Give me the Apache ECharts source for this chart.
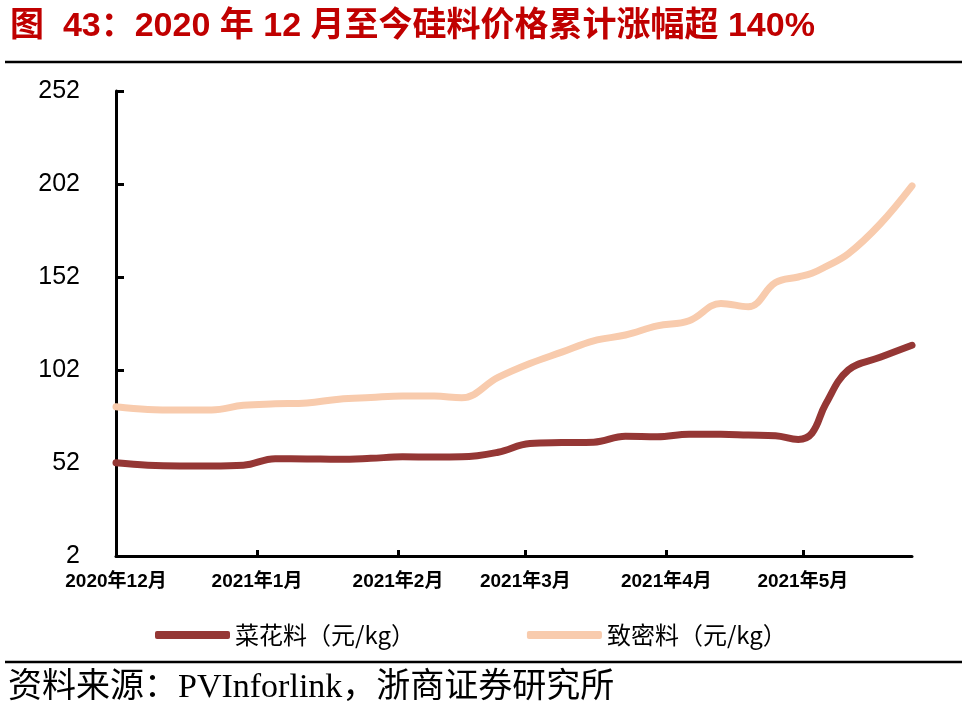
<!DOCTYPE html>
<html>
<head>
<meta charset="utf-8">
<script src="https://cdn.jsdelivr.net/npm/echarts@6/dist/echarts.min.js"></script>
<style>
html,body{margin:0;padding:0;background:#fff;}
#c{width:967px;height:721px;}
</style>
</head>
<body>
<div id="c"></div>
<script>
// ---- data ----
var dates = ['2020-12-01','2020-12-08','2020-12-15','2020-12-22','2020-12-29','2021-01-05','2021-01-12','2021-01-19','2021-01-26','2021-02-02','2021-02-09','2021-02-15','2021-02-23','2021-03-02','2021-03-09','2021-03-16','2021-03-23','2021-03-30','2021-04-06','2021-04-13','2021-04-19','2021-04-25','2021-04-30','2021-05-03','2021-05-06','2021-05-11','2021-05-18','2021-05-25'];
var flowerValues = [52.1,50.8,50.4,50.4,50.8,54.3,54.2,54.0,54.5,55.3,55.2,55.3,57.8,62.5,63.0,63.2,66.4,66.1,67.4,67.4,67.0,66.7,64.7,68.0,83.6,102.0,108.8,115.3];
var denseValues = [82.2,80.8,80.5,80.5,83.0,83.8,84.3,86.3,87.2,88.0,88.0,87.1,98.0,105.5,111.6,117.7,120.8,125.7,128.5,137.8,136.0,149.0,152.0,154.0,157.5,164.5,180.5,201.0];
var seriesNames = ['菜花料（元/kg）','致密料（元/kg）'];
var monthTicks = ['2020-12-01','2021-01-01','2021-02-01','2021-03-01','2021-04-01','2021-05-01'];
var monthLabels = ['2020年12月','2021年1月','2021年2月','2021年3月','2021年4月','2021年5月'];
var axisStart = '2020-12-01', axisEnd = '2021-05-25';
var yMin = 2, yMax = 252, yStep = 50;
var titleText = '图  43：2020 年 12 月至今硅料价格累计涨幅超 140%';
var sourceText = '资料来源：PVInforlink，浙商证券研究所';

// day offset from axis start (dates are converted, not typed as coordinates)
function dayOf(s){ var p = s.split('-'); return Math.round((Date.UTC(+p[0], +p[1]-1, +p[2]) - Date.UTC(2020, 11, 1)) / 86400000); }
var tickDays = monthTicks.map(dayOf);
function pairs(vals){ return dates.map(function(d,i){ return [dayOf(d), vals[i]]; }); }

var chart = echarts.init(document.getElementById('c'), null, {renderer:'canvas'});
var option = {
  backgroundColor: '#fff',
  animation: false,
  graphic: [
    {type:'text', left: 10, top: 10, style:{text: titleText, fill:'#C00000', font:'bold 34px "Liberation Sans","Noto Sans CJK SC"'}},
    {type:'line', shape:{x1:5, y1:62, x2:962, y2:62}, style:{stroke:'#000', lineWidth:2.5}},
    {type:'line', shape:{x1:5, y1:662, x2:962, y2:662}, style:{stroke:'#000', lineWidth:2.5}},
    {type:'text', left: 8, top: 671, style:{text: sourceText, fill:'#000', font:'34px "Liberation Serif","Noto Sans CJK SC"'}}
  ],
  grid: {left:116, right:55, top:91, bottom:165, containLabel:false},
  legend: {
    left: 150, top: 618,
    itemWidth: 75, itemHeight: 8, itemGap: 112,
    icon: 'roundRect',
    textStyle: {fontSize: 24, color:'#000', fontFamily:'"Noto Sans CJK SC"'},
    data: seriesNames
  },
  xAxis: {
    type: 'value',
    min: dayOf(axisStart), max: dayOf(axisEnd),
    axisLine: {lineStyle:{color:'#000', width:3}},
    axisTick: {inside:true, length:6, lineStyle:{color:'#000', width:3}, customValues: tickDays.slice(1)},
    axisLabel: {
      customValues: tickDays,
      margin: 16,
      color:'#000', fontSize:19, fontWeight:'bold', fontFamily:'"Liberation Sans","Noto Sans CJK SC"',
      formatter: function(v){ var i = tickDays.indexOf(Math.round(v)); return i >= 0 ? monthLabels[i] : ''; }
    },
    splitLine: {show:false}
  },
  yAxis: {
    type: 'value', min: yMin, max: yMax, interval: yStep,
    axisLine: {show:true, lineStyle:{color:'#000', width:3}},
    axisTick: {show:true, inside:true, length:8, lineStyle:{color:'#000', width:3}},
    axisLabel: {margin: 36, color:'#000', fontSize:25, fontFamily:'"Liberation Sans"'},
    splitLine: {show:false}
  },
  series: [
    {name: seriesNames[0], type:'line', data: pairs(flowerValues), smooth:0.4, showSymbol:false, symbol:'none',
     lineStyle:{color:'#953735', width:7, cap:'round', join:'round'}, itemStyle:{color:'#953735'}, z:3},
    {name: seriesNames[1], type:'line', data: pairs(denseValues), smooth:0.4, showSymbol:false, symbol:'none',
     lineStyle:{color:'#F8CBAD', width:7, cap:'round', join:'round'}, itemStyle:{color:'#F8CBAD'}, z:2}
  ]
};
chart.setOption(option);
</script>
</body>
</html>
